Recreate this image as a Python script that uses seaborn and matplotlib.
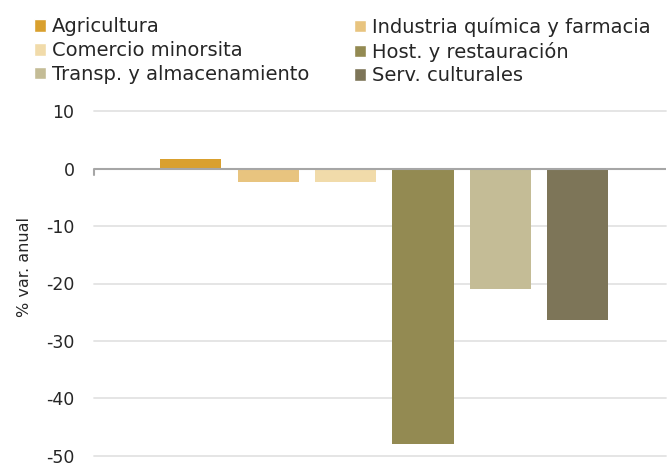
import numpy as np
import matplotlib
matplotlib.use('Agg')
import matplotlib.pyplot as plt
import seaborn as sns
from matplotlib.patches import Patch

sectors = ['Agricultura', 'Industria química y farmacia', 'Comercio minorsita',
           'Host. y restauración', 'Transp. y almacenamiento', 'Serv. culturales']
values = [1.7, -2.4, -2.4, -48.0, -20.9, -26.3]
colors = ['#D9A02E', '#E8C47F', '#F1DBAA', '#938A52', '#C4BC96', '#7D7558']
yticks = [10, 0, -10, -20, -30, -40, -50]

sns.set_style('white')
plt.rcParams['font.family'] = ['DejaVu Sans']

fig = plt.figure(figsize=(6.67, 4.63), dpi=100)
ax = fig.add_axes([94 / 667, 1 - 456.5 / 463, 572 / 667, 346 / 463])

sns.barplot(x=sectors, y=values, hue=sectors, palette=colors, order=sectors,
            hue_order=sectors, width=0.79, dodge=False, legend=False, ax=ax,
            saturation=1, zorder=2, linewidth=0)

ax.set_xlim(-1.25, 6.14)
ax.set_ylim(-50.1, 10.1)
ax.set_yticks(yticks)
ax.set_yticklabels([str(t) for t in yticks], fontsize=12.5, color='#262626')
ax.tick_params(axis='y', length=0, pad=14)
ax.set_xticks([-1.25])
ax.set_xticklabels([''])
ax.tick_params(axis='x', length=0)
for t in yticks:
    if t != 0:
        ax.axhline(t, color='#E3E3E3', lw=1.3, zorder=0, clip_on=False)
ax.axhline(0, color='#A6A6A6', lw=1.5, zorder=3)
ax.plot([-1.25, -1.25], [0, -1.2], color='#A6A6A6', lw=1.5, zorder=3, clip_on=False)
for s in ax.spines.values():
    s.set_visible(False)

ax.set_ylabel('% var. anual', fontsize=11.5, color='#262626')
ax.yaxis.set_label_coords(-0.108, 0.548)

# two legend columns placed separately
leg_kw = dict(loc='upper left', frameon=False, fontsize=14, handlelength=0.62,
              handleheight=0.62, handletextpad=0.31, labelspacing=0.24,
              borderpad=0, borderaxespad=0, labelcolor='#262626')
col1 = [Patch(facecolor=colors[i], label=sectors[i]) for i in [0, 2, 4]]
col2 = [Patch(facecolor=colors[i], label=sectors[i]) for i in [1, 3, 5]]
fig.legend(handles=col1, bbox_to_anchor=(34 / 667, 1 - 17.5 / 463), **leg_kw)
fig.legend(handles=col2, bbox_to_anchor=(354 / 667, 1 - 17.5 / 463), **leg_kw)

fig.savefig('out.png', dpi=100)
